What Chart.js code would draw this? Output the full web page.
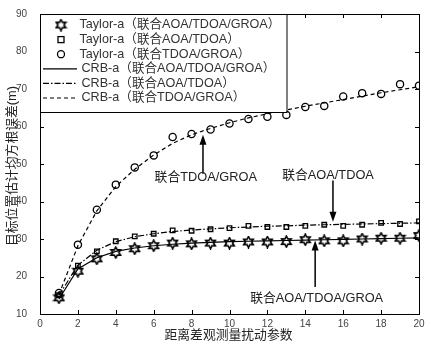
<!DOCTYPE html>
<html>
<head>
<meta charset="utf-8">
<script src="https://cdn.jsdelivr.net/npm/chart.js@4/dist/chart.umd.min.js"></script>
<style>
    html, body { margin: 0; padding: 0; background: #fff; }
    #contenedor { width: 431px; height: 349px; }
</style>
</head>
<body>
<div id="contenedor"><canvas id="grafico"></canvas></div>
<script>
const parametros = [1, 2, 3, 4, 5, 6, 7, 8, 9, 10, 11, 12, 13, 14, 15, 16, 17, 18, 19, 20];

const taylorAoaTdoaGroa = [14.3, 21.4, 24.7, 26.4, 27.4, 28.2, 28.9, 28.7, 28.9, 28.9, 29.2, 29.2, 29.3, 29.8, 29.5, 29.5, 30.0, 30.2, 30.2, 30.9];
const taylorAoaTdoa = [15.0, 22.9, 26.7, 29.4, 30.7, 31.4, 32.3, 32.2, 32.6, 32.9, 33.5, 33.2, 33.2, 33.5, 33.8, 33.5, 33.8, 34.3, 34.0, 34.7];
const taylorTdoaGroa = [15.6, 28.5, 37.8, 44.5, 49.1, 52.3, 57.2, 58.0, 59.2, 60.8, 62.0, 62.6, 63.1, 65.2, 65.5, 68.0, 68.9, 68.7, 71.3, 70.9];

const crbAoaTdoaGroa = [14.0, 22.0, 25.0, 26.7, 27.6, 28.2, 28.6, 28.9, 29.1, 29.3, 29.4, 29.5, 29.6, 29.7, 29.8, 29.9, 30.0, 30.1, 30.2, 30.3];
const crbAoaTdoa = [15.0, 23.0, 27.0, 29.3, 30.6, 31.4, 32.0, 32.4, 32.7, 33.0, 33.2, 33.4, 33.5, 33.7, 33.8, 33.9, 34.0, 34.1, 34.2, 34.3];
const crbTdoaGroa = [15.2, 28.2, 37.5, 44.0, 48.6, 52.4, 55.5, 57.8, 59.5, 61.0, 62.3, 63.4, 64.4, 65.4, 66.3, 67.2, 68.1, 69.0, 69.8, 70.6];

const ticksX = [0, 2, 4, 6, 8, 10, 12, 14, 16, 18, 20];
const ticksY = [10, 20, 30, 40, 50, 60, 70, 80, 90];

const nombres = [
    'Taylor-a（联合AOA/TDOA/GROA）',
    'Taylor-a（联合AOA/TDOA）',
    'Taylor-a（联合TDOA/GROA）',
    'CRB-a（联合AOA/TDOA/GROA）',
    'CRB-a（联合AOA/TDOA）',
    'CRB-a（联合TDOA/GROA）'
];

// texto, x y y del texto, x de la flecha, y inicio, y punta
const notas = [
    { texto: '联合TDOA/GROA', tx: 8.75, ty: 46.5, ax: 8.6, y0: 47.4, y1: 57.8 },
    { texto: '联合AOA/TDOA', tx: 15.2, ty: 47.0, ax: 15.46, y0: 45.6, y1: 34.6 },
    { texto: '联合AOA/TDOA/GROA', tx: 14.6, ty: 14.1, ax: 14.52, y0: 17.2, y1: 29.6 }
];

const fuente = '"Liberation Sans", Arial, "Noto Sans CJK SC", sans-serif';

function puntos(valores) {
    return parametros.map((x, i) => ({ x: x, y: valores[i] }));
}

// estrella de seis puntas para la serie Taylor con las tres medidas
function estrella() {
    let c = document.createElement('canvas');
    c.width = 13;
    c.height = 13;
    let g = c.getContext('2d');
    g.beginPath();
    for (let i = 0; i < 12; i++) {
        let r = i % 2 === 0 ? 5.5 : 3;
        let a = -Math.PI / 2 + i * Math.PI / 6;
        let px = 6.5 + r * Math.cos(a);
        let py = 6.5 + r * Math.sin(a);
        if (i === 0) g.moveTo(px, py); else g.lineTo(px, py);
    }
    g.closePath();
    g.lineWidth = 1.6;
    g.strokeStyle = '#000';
    g.stroke();
    return c;
}
const marcaEstrella = estrella();

function serieMarcas(nombre, valores, estilo, radio) {
    return {
        label: nombre,
        data: puntos(valores),
        showLine: false,
        pointStyle: estilo,
        pointRadius: radio,
        pointBorderColor: '#000',
        pointBackgroundColor: 'rgba(0,0,0,0)',
        pointBorderWidth: 1.3,
        borderColor: '#000'
    };
}

function serieLinea(nombre, valores, guion) {
    return {
        label: nombre,
        data: puntos(valores),
        borderColor: '#000',
        borderWidth: 1.2,
        borderDash: guion,
        pointRadius: 0,
        tension: 0,
        fill: false
    };
}

const guiones = [[], [6, 2, 1.5, 2], [4, 3]];

// caja, marcas de escala hacia dentro, leyenda y flechas
const extras = {
    id: 'extras',
    afterDatasetsDraw(chart) {
        const ctx = chart.ctx;
        const a = chart.chartArea;
        const sx = chart.scales.x;
        const sy = chart.scales.y;
        ctx.save();

        // flechas y textos
        ctx.strokeStyle = '#000';
        ctx.fillStyle = '#000';
        ctx.lineWidth = 1.5;
        notas.forEach(n => {
            let x = sx.getPixelForValue(n.ax);
            let ya = sy.getPixelForValue(n.y0);
            let yb = sy.getPixelForValue(n.y1);
            let dir = yb < ya ? 1 : -1;
            ctx.beginPath();
            ctx.moveTo(x, ya);
            ctx.lineTo(x, yb + dir * 8);
            ctx.stroke();
            ctx.beginPath();
            ctx.moveTo(x, yb);
            ctx.lineTo(x - 3.5, yb + dir * 10);
            ctx.lineTo(x + 3.5, yb + dir * 10);
            ctx.closePath();
            ctx.fill();
            ctx.font = '12.8px ' + fuente;
            ctx.fillStyle = '#222';
            ctx.textAlign = 'center';
            ctx.textBaseline = 'middle';
            ctx.fillText(n.texto, sx.getPixelForValue(n.tx), sy.getPixelForValue(n.ty));
            ctx.fillStyle = '#000';
        });

        // leyenda
        let lx0 = a.left, ly0 = a.top, lw = 246.5, lh = 98;
        ctx.fillStyle = '#fff';
        ctx.fillRect(lx0, ly0, lw, lh);
        ctx.strokeStyle = '#000';
        ctx.lineWidth = 1;
        ctx.strokeRect(lx0 + 0.5, ly0 + 0.5, lw, lh);
        chart.data.datasets.forEach((ds, i) => {
            let yy = ly0 + 11 + i * 14.6;
            if (i < 3) {
                let cx = lx0 + 21;
                ctx.lineWidth = 1.3;
                ctx.strokeStyle = '#000';
                if (ds.pointStyle === 'circle') {
                    ctx.beginPath();
                    ctx.arc(cx, yy, 3.5, 0, Math.PI * 2);
                    ctx.stroke();
                } else if (ds.pointStyle === 'rect') {
                    ctx.strokeRect(cx - 3, yy - 3, 6, 6);
                } else {
                    ctx.drawImage(marcaEstrella, cx - 6.5, yy - 6.5);
                }
            } else {
                ctx.lineWidth = 1.2;
                ctx.setLineDash(ds.borderDash);
                ctx.beginPath();
                ctx.moveTo(lx0 + 3, yy);
                ctx.lineTo(lx0 + 37, yy);
                ctx.stroke();
                ctx.setLineDash([]);
            }
            ctx.font = '12.6px ' + fuente;
            ctx.fillStyle = '#333';
            ctx.textAlign = 'left';
            ctx.textBaseline = 'middle';
            ctx.fillText(ds.label, lx0 + (i < 3 ? 39.5 : 41.5), yy);
        });

        // marco del area del grafico y marcas hacia dentro
        ctx.strokeStyle = '#000';
        ctx.lineWidth = 1;
        ctx.strokeRect(a.left + 0.5, a.top + 0.5, a.right - a.left, a.bottom - a.top);
        ctx.beginPath();
        ticksX.forEach(v => {
            let x = Math.round(sx.getPixelForValue(v)) + 0.5;
            ctx.moveTo(x, a.bottom); ctx.lineTo(x, a.bottom - 4);
            if (x > lx0 + lw + 1) { ctx.moveTo(x, a.top); ctx.lineTo(x, a.top + 4); }
        });
        ticksY.forEach(v => {
            let y = Math.round(sy.getPixelForValue(v)) + 0.5;
            if (y > ly0 + lh + 1) { ctx.moveTo(a.left, y); ctx.lineTo(a.left + 4, y); }
            ctx.moveTo(a.right, y); ctx.lineTo(a.right - 4, y);
        });
        ctx.stroke();

        // titulos de los ejes
        ctx.fillStyle = '#222';
        ctx.font = '12.8px ' + fuente;
        ctx.textAlign = 'center';
        ctx.textBaseline = 'middle';
        ctx.fillText('距离差观测量扰动参数', 228.5, 335);
        ctx.translate(12, 166);
        ctx.rotate(-Math.PI / 2);
        ctx.fillText('目标位置估计均方根误差(m)', 0, 0);
        ctx.restore();
    }
};

let grafico = new Chart(document.getElementById('grafico'), {
    type: 'line',
    data: {
        datasets: [
            serieMarcas(nombres[0], taylorAoaTdoaGroa, marcaEstrella, 5),
            serieMarcas(nombres[1], taylorAoaTdoa, 'rect', 3.2),
            serieMarcas(nombres[2], taylorTdoaGroa, 'circle', 3.6),
            serieLinea(nombres[3], crbAoaTdoaGroa, guiones[0]),
            serieLinea(nombres[4], crbAoaTdoa, guiones[1]),
            serieLinea(nombres[5], crbTdoaGroa, guiones[2])
        ]
    },
    options: {
        responsive: true,
        maintainAspectRatio: false,
        animation: false,
        layout: { padding: { top: 14, right: 12, left: 0, bottom: 0 } },
        plugins: {
            legend: { display: false },
            tooltip: { enabled: false }
        },
        scales: {
            x: {
                type: 'linear',
                min: 0,
                max: 20,
                afterFit: s => { s.height = 35; },
                afterBuildTicks: s => { s.ticks = ticksX.map(v => ({ value: v })); },
                grid: { display: false },
                border: { display: false },
                ticks: { color: '#444', font: { size: 10, family: fuente }, padding: -4, maxRotation: 0 }
            },
            y: {
                min: 10,
                max: 90,
                afterFit: s => { s.width = 40; },
                afterBuildTicks: s => { s.ticks = ticksY.map(v => ({ value: v })); },
                grid: { display: false },
                border: { display: false },
                ticks: { color: '#444', font: { size: 10, family: fuente }, padding: 5 }
            }
        }
    },
    plugins: [extras]
});
</script>
</body>
</html>
